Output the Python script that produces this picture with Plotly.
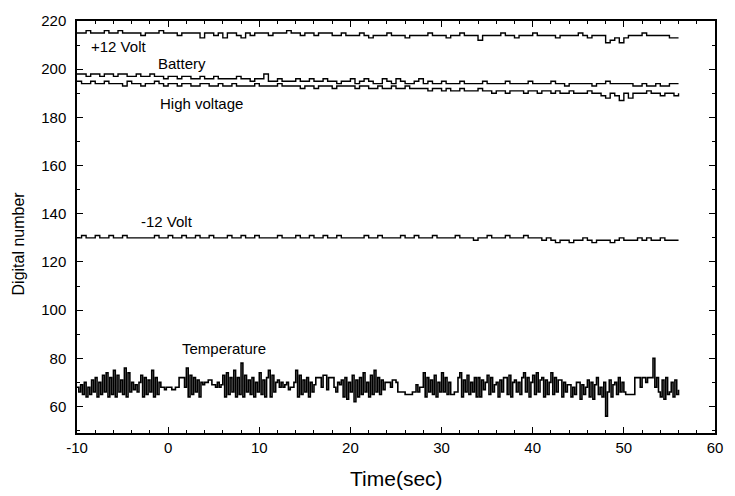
import plotly.graph_objects as go

# ---------------- data ----------------
t_start = -10.0
dt_slow = 0.5    # sampling of the housekeeping voltages
dt_temp = 0.2    # sampling of the temperature channel

plus12 = [
    215,215, 216,215, 215,215, 216,215, 215,216, 215,215, 215,215, 214,215, 215,215, 216,215,
    215,215, 214,215, 215,215, 215,213, 215,215, 214,215, 213,215, 215,214, 213,215, 214,215,
    215,215, 214,215, 215,215, 216,215, 215,214, 215,215, 214,215, 215,215, 214,214, 215,214,
    214,214, 215,214, 213,214, 214,214, 215,214, 214,214, 213,214, 214,214, 214,215, 214,214,
    214,213, 214,214, 215,214, 214,214, 212,214, 214,214, 214,215, 214,214, 213,214, 214,214,
    215,214, 214,214, 214,213, 214,214, 214,214, 215,214, 213,214, 214,214, 211,212, 213,211,
    213,214, 214,214, 215,214, 214,214, 214,214, 213,213, 213,
]

battery = [
    198,198, 197,198, 198,197, 198,198, 197,198, 198,197, 197,198, 197,197, 198,197, 197,196,
    197,197, 196,197, 197,196, 196,197, 196,196, 197,196, 196,196, 196,197, 196,196, 195,196,
    196,198, 195,195, 196,195, 195,195, 196,195, 195,196, 195,195, 196,195, 195,194, 195,195,
    196,194, 195,196, 195,194, 194,196, 195,194, 196,195, 194,194, 195,196, 194,195, 194,194,
    195,194, 194,194, 195,194, 194,194, 194,195, 194,194, 194,194, 195,194, 194,194, 194,195,
    194,194, 194,194, 195,194, 194,193, 194,194, 194,194, 194,193, 194,194, 195,194, 194,194,
    194,194, 193,193, 194,193, 193,194, 193,193, 194,194, 194,
]

high_voltage = [
    195,194, 194,195, 194,194, 195,194, 194,194, 193,195, 194,194, 193,194, 194,195, 194,193,
    194,194, 193,194, 194,193, 193,194, 194,193, 193,194, 193,193, 194,193, 193,193, 193,194,
    193,193, 193,193, 194,193, 193,193, 193,192, 193,193, 192,193, 193,193, 192,193, 193,193,
    193,192, 193,193, 192,192, 193,192, 192,193, 192,192, 193,192, 192,192, 192,191, 192,192,
    191,192, 191,191, 192,191, 191,191, 192,191, 191,190, 191,191, 190,191, 191,191, 190,191,
    191,190, 191,191, 190,191, 190,190, 191,190, 190,190, 191,190, 190,189, 188,190, 189,187,
    190,188, 190,190, 190,191, 190,190, 189,190, 190,189, 190,
]

minus12 = [
    130,131, 130,130, 131,130, 130,131, 130,130, 131,130, 130,130, 130,130, 130,131, 130,130,
    131,130, 130,131, 130,130, 131,130, 130,131, 130,130, 130,131, 130,130, 131,130, 130,131,
    130,130, 130,130, 131,130, 130,130, 131,130, 130,131, 130,130, 131,130, 130,131, 130,130,
    130,130, 130,131, 130,130, 131,130, 130,130, 130,131, 130,130, 131,130, 130,130, 131,130,
    130,130, 130,131, 130,130, 130,129, 130,130, 131,130, 130,130, 131,130, 130,130, 131,130,
    130,130, 129,130, 129,128, 129,129, 128,129, 129,130, 129,128, 129,129, 129,128, 129,130,
    129,129, 129,130, 129,130, 129,129, 130,129, 129,129, 129,
]

temperature = [
    68,66,69,65,70, 64,68,65,71,66, 72,64,70,65,73, 66,74,64,72,65, 75,64,73,66,71,
    65,76,64,74,66, 70,67,69,66,70, 73,64,72,65,71, 66,75,64,72,65, 70,68,68,67,68,
    68,68,67,67,68, 68,72,72,72,68, 76,64,73,65,72, 66,71,64,70,69, 70,70,71,71,69,
    69,68,70,68,69, 73,64,74,65,72, 66,75,64,72,65, 78,64,73,66,71, 65,72,64,70,66,
    74,65,71,64,72, 75,64,73,66,70, 71,68,70,68,69, 70,67,68,68,70, 75,64,73,65,71,
    66,72,64,70,66, 69,72,72,72,68, 73,73,67,72,72, 72,68,66,70,69, 71,64,72,63,70,
    66,73,62,71,64, 72,65,74,66,70, 64,73,65,75,66, 72,65,71,67,70, 70,70,68,71,71,
    70,66,66,66,66, 65,65,65,65,66, 66,69,66,68,68, 74,64,72,66,71, 65,73,64,70,66,
    74,66,72,65,70, 65,65,66,66,72, 74,64,71,66,73, 65,70,66,72,64, 72,64,71,67,70,
    73,65,72,66,69, 70,64,71,66,72, 72,65,73,64,70, 71,66,70,65,72, 74,66,72,64,70,
    73,65,74,66,71, 72,64,71,65,70, 74,65,72,66,71, 71,64,70,66,69, 69,64,68,65,70,
    70,63,69,65,68, 71,64,70,63,69, 72,65,68,64,70, 56,66,71,64,69, 70,65,72,66,70,
    66,65,65,65,65, 65,72,72,72,68, 72,72,70,72,72, 72,80,68,72,66, 64,71,63,72,65,
    66,70,64,71,65, 67,
]

x_ticks = [-10, 0, 10, 20, 30, 40, 50, 60]
x_tick_text = ["-10", "0", "10", "20", "30", "40", "50", "60"]
y_ticks = [60, 80, 100, 120, 140, 160, 180, 200, 220]

labels = ["+12 Volt", "Battery", "High voltage", "-12 Volt", "Temperature"]
label_x = [-5.4, 1.5, 3.7, -0.1, 6.1]
label_y = [209.5, 202.3, 185.8, 136.7, 84.0]

# ---------------- figure ----------------
def times(n, step):
    return [t_start + i * step for i in range(n)]

FONT = "Liberation Sans, Arial, sans-serif"
fig = go.Figure()
for ys, step, w in [(plus12, dt_slow, 1.4), (battery, dt_slow, 1.4), (high_voltage, dt_slow, 1.4),
                    (minus12, dt_slow, 1.4), (temperature, dt_temp, 1.6)]:
    fig.add_trace(go.Scatter(
        x=times(len(ys), step), y=ys, mode="lines",
        line=dict(color="black", width=w, shape="hv"),
        showlegend=False, hoverinfo="skip"))

for txt, lx, ly in zip(labels, label_x, label_y):
    fig.add_annotation(x=lx, y=ly, text=txt, showarrow=False,
                       font=dict(family=FONT, size=15, color="black"))

fig.add_annotation(xref="paper", yref="paper", x=0.5, y=0, yshift=-45,
                   text="Time(sec)", showarrow=False, yanchor="middle",
                   font=dict(family=FONT, size=21, color="black"))
fig.add_annotation(xref="paper", yref="paper", x=0, xshift=-59, y=0.46,
                   text="Digital number", showarrow=False, textangle=-90,
                   xanchor="center", yanchor="middle",
                   font=dict(family=FONT, size=16, color="black"))

axis_common = dict(
    showgrid=False, zeroline=False, showline=True, linecolor="black",
    linewidth=1.5, mirror="ticks", ticks="inside", tickcolor="black",
    ticklen=6, tickwidth=1.3,
    tickfont=dict(family=FONT, size=15, color="black"),
)
fig.update_xaxes(range=[-10, 60], tickvals=x_ticks, ticktext=x_tick_text,
                 minor=dict(dtick=2, ticks="inside", ticklen=3, tickcolor="black", tickwidth=1),
                 ticklabelstandoff=0, **axis_common)
fig.update_yaxes(range=[49, 220], tickvals=y_ticks,
                 minor=dict(dtick=10, ticks="inside", ticklen=3, tickcolor="black", tickwidth=1),
                 ticklabelstandoff=6, **axis_common)

fig.update_layout(
    width=735, height=496,
    margin=dict(l=77, r=13, t=18, b=63),
    paper_bgcolor="white", plot_bgcolor="white",
    font=dict(family=FONT, color="black"),
)

fig.write_html("out.html")
